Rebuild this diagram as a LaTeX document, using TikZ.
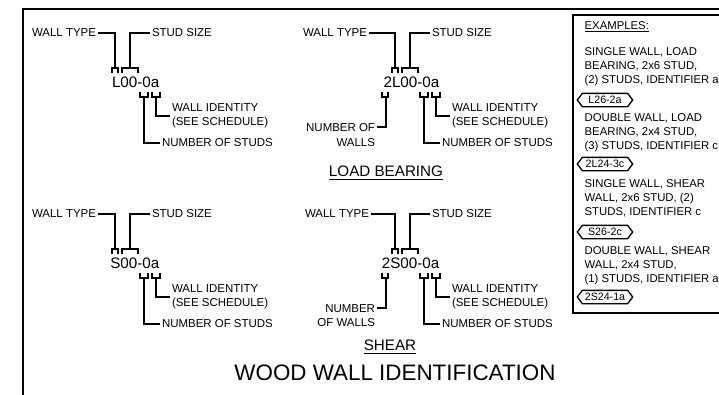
\documentclass[tikz,border=0pt]{standalone}
\usepackage{fontspec}
\setmainfont{Liberation Sans}

\tikzset{
  lbl/.style={inner xsep=1pt, inner ysep=0pt, font=\fontsize{8.6}{10.8}\selectfont},
  key/.style={inner sep=0pt, font=\fontsize{11.4}{13}\selectfont},
  head/.style={inner sep=0pt, font=\fontsize{11.4}{13}\selectfont},
  note/.style={anchor=west, align=left, inner sep=0pt, font=\fontsize{8.5}{10.5}\selectfont},
  tag/.style={minimum width=33pt, minimum height=9pt, inner sep=0pt,
    font=\fontsize{8}{9}\selectfont},
}

% one wall key with its callouts (#1 key text, #2 right end of WALL TYPE)
\newcommand{\wallkey}[2]{%
  \node[key, anchor=east] (code) at (160,82) {#1};
  \node[lbl, anchor=east] (type) at (#2,33) {WALL TYPE};
  \node[lbl, anchor=west] (size) at (150,33) {STUD SIZE};
  \node[lbl, anchor=west, align=left] (ident) at (170,116) {WALL IDENTITY\\(SEE SCHEDULE)};
  \node[lbl, anchor=west] (studs) at (160,143) {NUMBER OF STUDS};
  \draw (112,73) |- (118,68) -- (118,73);
  \draw (122,73) |- (138,68) -- (138,73);
  \draw (140,92) |- (148,97) -- (148,92);
  \draw (152,92) |- (160,97) -- (160,92);
  \coordinate (t) at (115,68);
  \coordinate (s) at (130,68);
  \coordinate (n) at (144,97);
  \coordinate (i) at (156,97);
  \draw (type) -| (t);
  \draw (s) |- (size);
  \draw (n) |- (studs);
  \draw (i) |- (ident);
}

% pointed tag round an example key
\newcommand{\hextag}[3]{%
  \node[tag] (#1) at (#2) {#3};
  \draw (#1.north west) -- (#1.north east) -- ([xshift=3.75pt]#1.east)
    -- (#1.south east) -- (#1.south west) -- ([xshift=-3.75pt]#1.west) -- cycle;
}

\begin{document}
\begin{tikzpicture}[x=0.75pt, y=-0.75pt, line width=1pt]
  \useasboundingbox (0,0) rectangle (719,394);
  % sheet border
  \draw[line width=1.5pt] (23,400) -- (23,9) -- (730,9);

  % load bearing
  \begin{scope}[name prefix=sl-]
    \wallkey{L00-0a}{98}
  \end{scope}
  \begin{scope}[shift={(280,0)}, name prefix=dl-]
    \wallkey{2L00-0a}{89}
    \draw (102,92) |- (108,97) -- (108,92);
    \coordinate (w) at (106,97);
    \coordinate (wl) at (97,127);
    \node[lbl, anchor=north east, align=right] (walls) at (97,123) {NUMBER OF\\WALLS};
    \draw (w) |- (wl);
  \end{scope}
  \node[head] (load) at (386,173) {\underline{LOAD BEARING}};

  % shear
  \begin{scope}[shift={(0,181)}, name prefix=ss-]
    \wallkey{S00-0a}{98}
  \end{scope}
  \begin{scope}[shift={(280,181)}, name prefix=ds-]
    \wallkey{2S00-0a}{91}
    \draw (102,92) |- (108,97) -- (108,92);
    \coordinate (w) at (106,97);
    \coordinate (wl) at (97,127);
    \node[lbl, anchor=north east, align=right] (walls) at (97,123) {NUMBER\\OF WALLS};
    \draw (w) |- (wl);
  \end{scope}
  \node[head] (shear) at (390,347) {\underline{SHEAR}};

  \node[inner sep=0pt, font=\fontsize{16.8}{20}\selectfont] (title) at (395,373) {WOOD WALL IDENTIFICATION};

  % examples
  \draw (573,313) rectangle (740,15);
  \node[note] (ex) at (584,27) {\underline{EXAMPLES:}};
  \node[note] (ex1) at (584,67) {SINGLE WALL, LOAD\\BEARING, 2x6 STUD,\\(2) STUDS, IDENTIFIER a};
  \hextag{tag1}{605,100}{L26-2a}
  \node[note] (ex2) at (584,133) {DOUBLE WALL, LOAD\\BEARING, 2x4 STUD,\\(3) STUDS, IDENTIFIER c};
  \hextag{tag2}{605,164}{2L24-3c}
  \node[note] (ex3) at (584,198) {SINGLE WALL, SHEAR\\WALL, 2x6 STUD, (2)\\STUDS, IDENTIFIER c};
  \hextag{tag3}{605,232}{S26-2c}
  \node[note] (ex4) at (584,266) {DOUBLE WALL, SHEAR\\WALL, 2x4 STUD,\\(1) STUDS, IDENTIFIER a};
  \hextag{tag4}{605,297}{2S24-1a}
\end{tikzpicture}
\end{document}
